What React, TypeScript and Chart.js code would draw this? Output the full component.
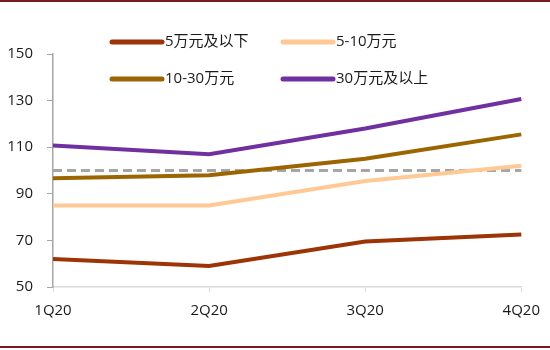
import React, { useEffect, useRef } from "react";
import { Chart, registerables } from "chart.js";

Chart.register(...registerables);

const categories = ["1Q20", "2Q20", "3Q20", "4Q20"];
const seriesNames = ["5万元及以下", "5-10万元", "10-30万元", "30万元及以上"];
const below5 = [62, 59, 69.5, 72.5];
const from5to10 = [85, 85, 95.5, 102];
const from10to30 = [96.7, 98, 105, 115.5];
const above30 = [110.7, 107, 118, 130.7];
const baseline = [100, 100, 100, 100];
const yTicks = [50, 70, 90, 110, 130, 150];

const colors = ["#9C3406", "#FFC995", "#9B6502", "#7030A0"];
const FONT = "'Open Sans', 'Noto Sans CJK SC', sans-serif";

const legendPlugin = {
  id: "customLegend",
  afterDraw(chart: any) {
    const ctx = chart.ctx;
    const cols = [112, 283];
    const rows = [42, 79];
    const ds = chart.data.datasets.filter((d: any) => !d.hideLegend);
    ctx.save();
    ds.forEach((d: any, i: number) => {
      const x = cols[i % 2];
      const y = rows[Math.floor(i / 2)];
      ctx.strokeStyle = d.borderColor;
      ctx.lineWidth = 5;
      ctx.lineCap = "round";
      ctx.beginPath();
      ctx.moveTo(x, y);
      ctx.lineTo(x + 50, y);
      ctx.stroke();
      ctx.fillStyle = "#1a1a1a";
      ctx.font = `15px ${FONT}`;
      ctx.textBaseline = "middle";
      ctx.textAlign = "left";
      ctx.fillText(d.label, x + 53, y);
    });
    ctx.restore();
  },
};

const borderPlugin = {
  id: "pageBorders",
  afterDraw(chart: any) {
    const ctx = chart.ctx;
    const w = chart.width;
    ctx.save();
    ctx.fillStyle = "#7A1A1E";
    ctx.fillRect(0, 0, w, 2);
    ctx.fillRect(0, 346, w, 2);
    ctx.restore();
  },
};

export default function App() {
  const ref = useRef<HTMLCanvasElement | null>(null);
  useEffect(() => {
    if (!ref.current) return;
    const values = [below5, from5to10, from10to30, above30];
    const datasets: any[] = values.map((v, i) => ({
      label: seriesNames[i],
      data: v,
      borderColor: colors[i],
      backgroundColor: colors[i],
      borderWidth: 4,
      pointRadius: 0,
      tension: 0,
      fill: false,
      order: 1,
    }));
    datasets.push({
      label: "基准",
      data: baseline,
      borderColor: "#A6A6A6",
      backgroundColor: "#A6A6A6",
      borderWidth: 3,
      borderDash: [9, 5],
      pointRadius: 0,
      fill: false,
      hideLegend: true,
      order: 2,
    });
    const chart = new Chart(ref.current, {
      type: "line",
      data: { labels: categories, datasets },
      options: {
        animation: false,
        responsive: true,
        maintainAspectRatio: false,
        layout: { padding: { top: 54, right: 28, left: 0, bottom: 0 } },
        plugins: { legend: { display: false }, tooltip: { enabled: false } },
        scales: {
          x: {
            offset: false,
            grid: {
              drawOnChartArea: false,
              drawTicks: true,
              tickLength: 5,
              color: "#D9D9D9",
            },
            border: { color: "#D9D9D9", width: 1.5 },
            ticks: {
              color: "#1a1a1a",
              font: { family: FONT, size: 15 },
              padding: 10,
              maxRotation: 0,
            },
            afterFit(scale: any) {
              scale.height = 63;
            },
          },
          y: {
            min: 50,
            max: 150,
            afterBuildTicks(scale: any) {
              scale.ticks = yTicks.map((v) => ({ value: v }));
            },
            grid: {
              drawOnChartArea: false,
              drawTicks: true,
              tickLength: 6,
              color: "#A6A6A6",
            },
            border: { color: "#A6A6A6", width: 1.5 },
            ticks: {
              color: "#1a1a1a",
              font: { family: FONT, size: 15 },
              padding: 14,
            },
            afterFit(scale: any) {
              scale.width = 53;
            },
          },
        },
      },
      plugins: [legendPlugin, borderPlugin],
    });
    return () => chart.destroy();
  }, []);
  return (
    <div style={{ position: "fixed", left: 0, top: 0, width: 550, height: 350, background: "#fff" }}>
      <canvas ref={ref} />
    </div>
  );
}
